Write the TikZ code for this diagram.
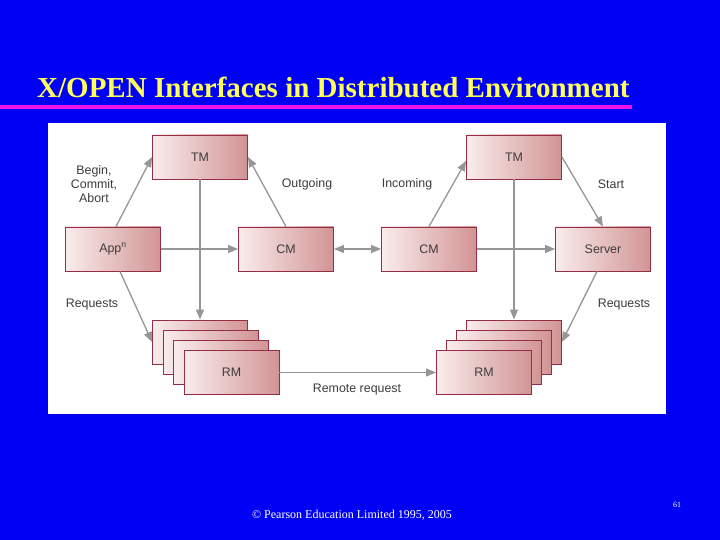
\documentclass[tikz,border=0pt]{standalone}
\usepackage{fontspec}
\setmainfont{Liberation Serif}
\setsansfont{Liberation Sans}
\usepackage{xcolor}
\usepackage{tikz}
\usetikzlibrary{arrows.meta, positioning}
\definecolor{slideblue}{RGB}{0,0,245}
\definecolor{slidemag}{RGB}{235,20,235}
\definecolor{titleyel}{RGB}{255,255,90}
\definecolor{boxlight}{RGB}{250,236,236}
\definecolor{boxdark}{RGB}{210,148,148}
\definecolor{boxedge}{RGB}{150,45,70}
\definecolor{boxtext}{RGB}{60,60,60}
\definecolor{arrgray}{RGB}{150,150,150}

\begin{document}
\begin{tikzpicture}[
  x=1pt, y=-1pt,
  every node/.style={font=\sffamily\fontsize{12.4}{14}\selectfont, text=boxtext},
  box/.style={rectangle, draw=boxedge, line width=0.9pt, left color=boxlight,
              right color=boxdark, minimum width=95pt, minimum height=44pt,
              inner sep=0pt},
  lbl/.style={align=center, text=boxtext},
  arr/.style={-{Triangle[length=10pt,width=8pt]}, line width=1.3pt, color=arrgray},
  darr/.style={{Triangle[length=10pt,width=8pt]}-{Triangle[length=10pt,width=8pt]},
               line width=1.3pt, color=arrgray},
]

% slide background and title
\fill[slideblue] (0,0) rectangle (720,540);
\node[font=\rmfamily\bfseries\fontsize{29}{32}\selectfont, text=titleyel,
      anchor=base west, inner sep=0pt] (title) at (37,98)
      {X/OPEN Interfaces in Distributed Environment};
\fill[slidemag] (0,105) rectangle (632,109);
\fill[white] (48,123) rectangle (666,414);

% top row
\node[box] (tmA)    at (200,157) {TM};
\node[box] (tmB)    at (514,157) {TM};
% middle row
\node[box] (app)    at (113,249) {App\textsuperscript{n}};
\node[box] (cmA)    at (286,249) {CM};
\node[box] (cmB)    at (429,249) {CM};
\node[box] (server) at (603,249) {Server};

% resource manager stacks
\node[box] (rmA1) at (200,342) {};
\node[box] (rmA2) at (210.5,352) {};
\node[box] (rmA3) at (221,362) {};
\node[box] (rmA4) at (231.5,372.5) {RM};
\node[box] (rmB1) at (514,342) {};
\node[box] (rmB2) at (504,352) {};
\node[box] (rmB3) at (494,362) {};
\node[box] (rmB4) at (484,372.5) {RM};

% labels
\node[lbl] (lblBegin)  at (94,184) {Begin,\\Commit,\\Abort};
\node[lbl] (lblOut)    at (307,184) {Outgoing};
\node[lbl] (lblIn)     at (407,184) {Incoming};
\node[lbl] (lblStart)  at (611,184) {Start};
\node[lbl] (lblReqA)   at (92,305)  {Requests};
\node[lbl] (lblReqB)   at (624,305) {Requests};
\node[lbl] (lblRemote) at (357,390) {Remote request};

% connectors
\draw[arr] ([xshift=3pt]app.north) -- (tmA.west);
\draw[arr] (cmA.north) -- (tmA.east);
\draw[arr] (cmB.north) -- ([yshift=-4pt]tmB.west);
\draw[arr] (tmB.east)  -- (server.north);
\draw[arr] (tmA.south) -- (rmA1.north);
\draw[arr] (tmB.south) -- (rmB1.north);
\draw[arr] (app.east)  -- (cmA.west);
\draw[darr] (cmA.east) -- (cmB.west);
\draw[arr] (cmB.east)  -- (server.west);
\draw[arr] ([xshift=7pt]app.south) -- (rmA1.west);
\draw[arr] ([xshift=-6pt]server.south) -- (rmB1.east);
\draw[arr] (rmA4.east) -- (rmB4.west);

% footer
\node[font=\rmfamily\fontsize{12}{14}\selectfont, text=white] (footer) at (352,515)
      {\textcopyright{} Pearson Education Limited 1995, 2005};
\node[font=\rmfamily\fontsize{8}{9}\selectfont, text=white] (pagenum) at (677,505) {61};

\end{tikzpicture}
\end{document}
